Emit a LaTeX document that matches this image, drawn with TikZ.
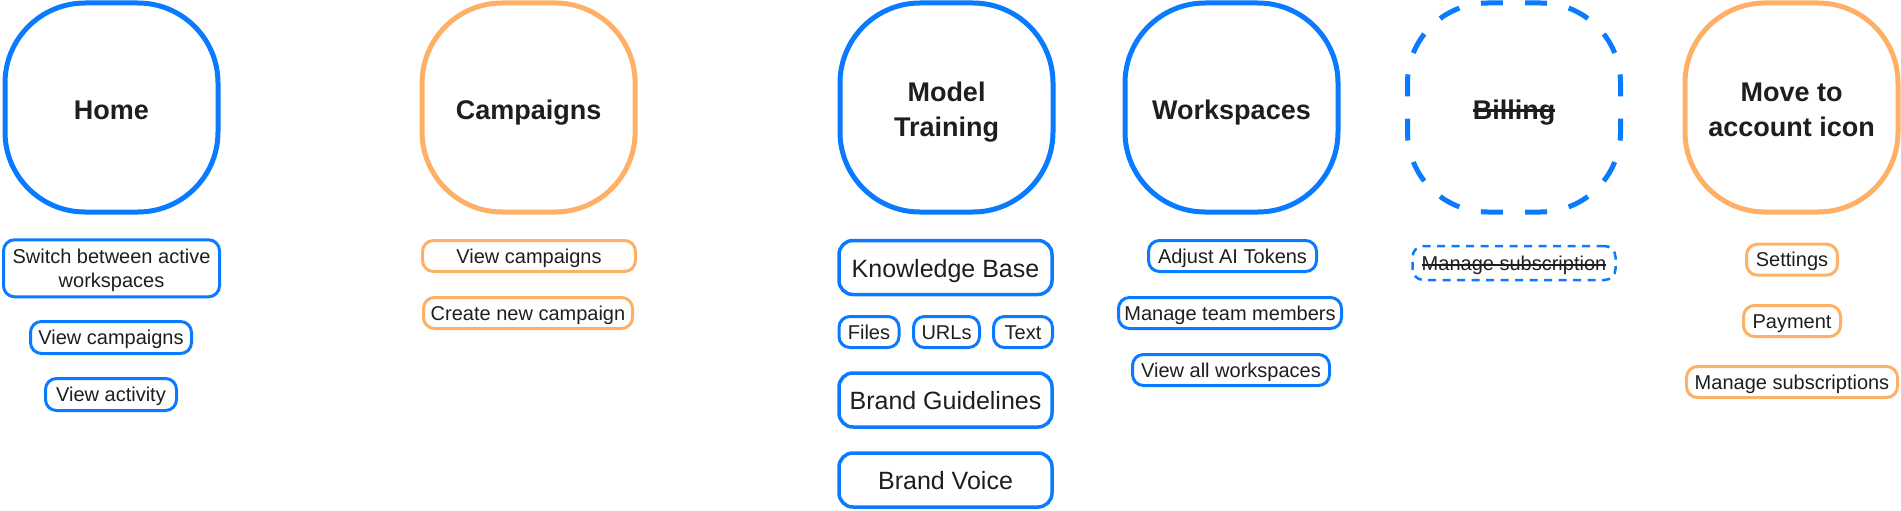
\documentclass[tikz,border=0pt]{standalone}
\usepackage{fontspec}
\setmainfont{Liberation Sans}
\definecolor{bl}{HTML}{0A7AFF}
\definecolor{og}{HTML}{FFB067}
\definecolor{txt}{HTML}{1E1E1E}
\newsavebox{\strikebox}
\newcommand{\strikeit}[3]{\sbox{\strikebox}{#3}\rlap{\raisebox{#2}{\rule{\wd\strikebox}{#1}}}\usebox{\strikebox}}
\newcommand{\tstrut}{\rule[-5.7pt]{0pt}{34.6pt}}
\newcommand{\sstrut}{\rule[-4.2pt]{0pt}{22.8pt}}
\newcommand{\lstrut}{\rule[-5.3pt]{0pt}{30.1pt}}
\tikzset{
  big/.style={draw=#1, line width=5pt, rounded corners=80pt, minimum width=213pt, minimum height=209pt,
    align=center, inner sep=0pt, text=txt, font=\bfseries\fontsize{27}{30.5}\selectfont},
  sub/.style={draw=#1, line width=3pt, rounded corners=11pt, minimum height=31pt, inner sep=0pt,
    align=center, text=txt, font=\fontsize{20}{23.4}\selectfont},
  lsub/.style={draw=#1, line width=3.5pt, rounded corners=14pt, minimum height=54pt, minimum width=213pt,
    inner sep=0pt, align=center, text=txt, font=\fontsize{25}{30}\selectfont},
}
\begin{document}
\begin{tikzpicture}[x=1pt,y=-1pt]
\useasboundingbox (0,0) rectangle (1901,511);
% big boxes
\node[big=bl] (home) at (111.5,107.5) {\tstrut Home};
\node[big=og] (camp) at (528.6,107.5) {\tstrut Campaigns};
\node[big=bl] (model) at (946.5,107.5) {\tstrut Model\\Training\tstrut};
\node[big=bl] (work) at (1231.5,107.5) {\tstrut Workspaces};
\node[big=bl, draw=none, outer sep=0pt] (bill) at (1514,107.5) {\tstrut\strikeit{2.6pt}{0.5ex}{Billing}};
\draw[bl, line width=5pt, rounded corners=80pt, dash pattern=on 22pt off 22.17pt, dash phase=33.08pt]
  (bill.north) -- (bill.north east) -- (bill.south east) -- (bill.south west) -- (bill.north west) -- (bill.north);
\node[big=og] (move) at (1791.5,107.5) {\tstrut Move to\\account icon\tstrut};
% Home
\node[sub=bl, minimum width=216pt, minimum height=57pt] (h1) at (111.5,268.3) {\sstrut Switch between active\\workspaces\sstrut};
\node[sub=bl, minimum width=161pt, minimum height=32pt] (h2) at (111,337.5) {\sstrut View campaigns};
\node[sub=bl, minimum width=131pt, minimum height=32pt] (h3) at (111,394.5) {\sstrut View activity};
% Campaigns
\node[sub=og, minimum width=213pt] (c1) at (529,256) {\sstrut View campaigns};
\node[sub=og, minimum width=209pt] (c2) at (528,313) {\sstrut Create new campaign};
% Model training
\node[lsub=bl] (m1) at (945.5,267.5) {\lstrut Knowledge Base};
\node[sub=bl, minimum width=60pt] (m2) at (869,332) {\sstrut Files};
\node[sub=bl, minimum width=66pt] (m3) at (946.5,332) {\sstrut URLs};
\node[sub=bl, minimum width=59pt] (m4) at (1023,332) {\sstrut Text};
\node[lsub=bl] (m5) at (945.5,400) {\lstrut Brand Guidelines};
\node[lsub=bl] (m6) at (945.5,480) {\lstrut Brand Voice};
% Workspaces
\node[sub=bl, minimum width=168pt] (w1) at (1232.5,256) {\sstrut Adjust AI Tokens};
\node[sub=bl, minimum width=223pt] (w2) at (1230,313) {\sstrut Manage team members};
\node[sub=bl, minimum width=197pt] (w3) at (1231,370) {\sstrut View all workspaces};
% Billing
\node[sub=bl, line width=2.5pt, dash pattern=on 8pt off 6.5pt, minimum width=203pt, minimum height=34pt] (b1) at (1514,263) {\sstrut\strikeit{1.3pt}{0.42ex}{Manage subscription}};
% Move to account icon
\node[sub=og, minimum width=91pt] (a1) at (1792,259.7) {\sstrut Settings};
\node[sub=og, minimum width=97pt] (a2) at (1792,321) {\sstrut Payment};
\node[sub=og, minimum width=211pt] (a3) at (1792,382) {\sstrut Manage subscriptions};
\end{tikzpicture}
\end{document}
